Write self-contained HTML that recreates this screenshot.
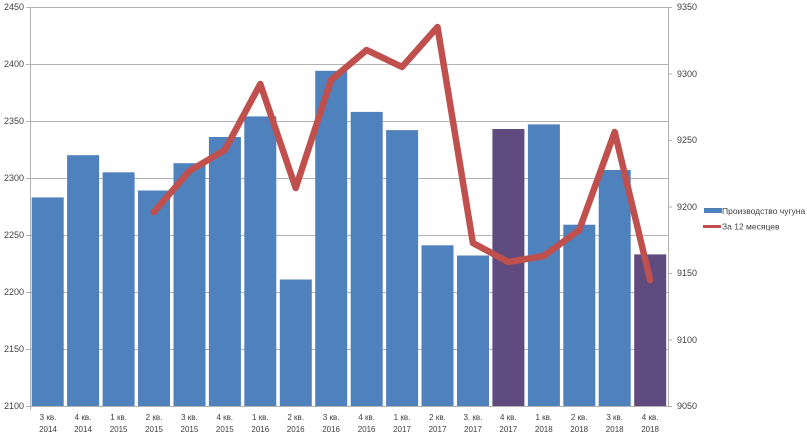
<!DOCTYPE html>
<html><head><meta charset="utf-8"><style>body{margin:0;background:#fff}svg{display:block}text{font-family:"Liberation Sans",sans-serif;fill:#404040}</style></head><body>
<svg width="807" height="436" xmlns="http://www.w3.org/2000/svg">
<g stroke="#b3b3b3" stroke-width="1">
<line x1="26" y1="7.5" x2="668" y2="7.5"/><line x1="26" y1="64.5" x2="668" y2="64.5"/><line x1="26" y1="121.5" x2="668" y2="121.5"/><line x1="26" y1="178.5" x2="668" y2="178.5"/><line x1="26" y1="235.5" x2="668" y2="235.5"/><line x1="26" y1="292.5" x2="668" y2="292.5"/><line x1="26" y1="349.5" x2="668" y2="349.5"/><line x1="26" y1="406.5" x2="672" y2="406.5"/>
<line x1="668" y1="7.5" x2="672" y2="7.5"/><line x1="668" y1="74" x2="672" y2="74"/><line x1="668" y1="140.5" x2="672" y2="140.5"/><line x1="668" y1="207" x2="672" y2="207"/><line x1="668" y1="273.5" x2="672" y2="273.5"/><line x1="668" y1="340" x2="672" y2="340"/>
<line x1="30.5" y1="7" x2="30.5" y2="410"/><line x1="668.5" y1="7" x2="668.5" y2="406"/>
</g>
<g fill="#4f81bd">
<rect x="31.7" y="197.4" width="32" height="208.6"/>
<rect x="67.1" y="155.2" width="32" height="250.8"/>
<rect x="102.6" y="172.3" width="32" height="233.7"/>
<rect x="138.0" y="190.5" width="32" height="215.5"/>
<rect x="173.5" y="163.2" width="32" height="242.8"/>
<rect x="208.9" y="137.0" width="32" height="269"/>
<rect x="244.3" y="116.4" width="32" height="289.6"/>
<rect x="279.8" y="279.5" width="32" height="126.5"/>
<rect x="315.2" y="70.8" width="32" height="335.2"/>
<rect x="350.7" y="111.9" width="32" height="294.1"/>
<rect x="386.1" y="130.1" width="32" height="275.9"/>
<rect x="421.5" y="245.3" width="32" height="160.7"/>
<rect x="457.0" y="255.5" width="32" height="150.5"/>
<rect x="492.4" y="129.0" width="32" height="277" fill="#5f4b7e"/>
<rect x="527.9" y="124.4" width="32" height="281.6"/>
<rect x="563.3" y="224.7" width="32" height="181.3"/>
<rect x="598.7" y="170.0" width="32" height="236"/>
<rect x="634.2" y="254.4" width="32" height="151.6" fill="#5f4b7e"/>
</g>
<polyline fill="none" stroke="#c0504d" stroke-width="6.5" stroke-linejoin="round" stroke-linecap="round" points="153.9,212 189.4,171 224.8,150 260.3,84 295.7,188 331.1,80 366.6,50 402,67 437.5,27 472.9,243 508.3,262 543.8,256 579.2,230 614.7,132 650.1,280"/>
<g font-size="9" text-anchor="end">
<text x="24" y="10">2450</text><text x="24" y="67">2400</text><text x="24" y="124">2350</text><text x="24" y="181">2300</text><text x="24" y="238">2250</text><text x="24" y="295">2200</text><text x="24" y="352">2150</text><text x="24" y="409">2100</text>
</g>
<g font-size="9">
<text x="677" y="10">9350</text><text x="677" y="77">9300</text><text x="677" y="143">9250</text><text x="677" y="210">9200</text><text x="677" y="276">9150</text><text x="677" y="343">9100</text><text x="677" y="409">9050</text>
</g>
<g font-size="8" text-anchor="middle">
<text x="48" y="420">3 кв.</text><text x="48" y="432">2014</text>
<text x="83" y="420">4 кв.</text><text x="83" y="432">2014</text>
<text x="118.6" y="420">1 кв.</text><text x="118.6" y="432">2015</text>
<text x="154" y="420">2 кв.</text><text x="154" y="432">2015</text>
<text x="189.4" y="420">3 кв.</text><text x="189.4" y="432">2015</text>
<text x="224.8" y="420">4 кв.</text><text x="224.8" y="432">2015</text>
<text x="260.3" y="420">1 кв.</text><text x="260.3" y="432">2016</text>
<text x="295.7" y="420">2 кв.</text><text x="295.7" y="432">2016</text>
<text x="331.1" y="420">3 кв.</text><text x="331.1" y="432">2016</text>
<text x="366.6" y="420">4 кв.</text><text x="366.6" y="432">2016</text>
<text x="402" y="420">1 кв.</text><text x="402" y="432">2017</text>
<text x="437.5" y="420">2 кв.</text><text x="437.5" y="432">2017</text>
<text x="472.9" y="420">3. кв.</text><text x="472.9" y="432">2017</text>
<text x="508.3" y="420">4 кв.</text><text x="508.3" y="432">2017</text>
<text x="543.8" y="420">1 кв.</text><text x="543.8" y="432">2018</text>
<text x="579.2" y="420">2 кв.</text><text x="579.2" y="432">2018</text>
<text x="614.7" y="420">3 кв.</text><text x="614.7" y="432">2018</text>
<text x="650.1" y="420">4 кв.</text><text x="650.1" y="432">2018</text>
</g>
<rect x="704" y="208" width="18" height="5" fill="#4f81bd"/>
<text x="722" y="214" font-size="8.5">Производство чугуна</text>
<line x1="703" y1="226.5" x2="721" y2="226.5" stroke="#c0504d" stroke-width="3"/>
<text x="722" y="229.5" font-size="8.5">За 12 месяцев</text>
</svg>
</body></html>
